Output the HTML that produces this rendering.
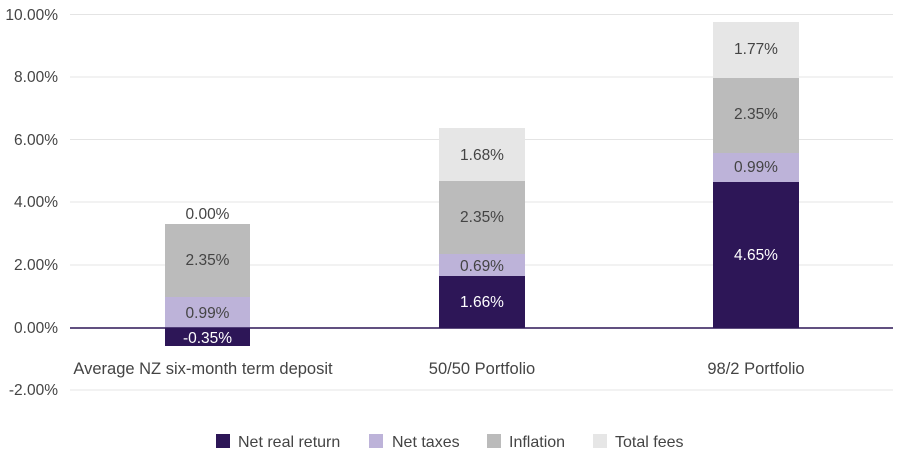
<!DOCTYPE html>
<html><head><meta charset="utf-8"><style>
body{margin:0;background:#fff}
svg text{font-family:"Liberation Sans",Arial,sans-serif;font-size:15.5px;fill:#444}
</style></head><body>
<svg width="900" height="464" viewBox="0 0 900 464" xmlns="http://www.w3.org/2000/svg">
<g stroke="#e4e4e4" stroke-width="1">
<line x1="70" x2="893" y1="14.5" y2="14.5"/>
<line x1="70" x2="893" y1="77" y2="77"/>
<line x1="70" x2="893" y1="139.5" y2="139.5"/>
<line x1="70" x2="893" y1="202" y2="202"/>
<line x1="70" x2="893" y1="265" y2="265"/>
<line x1="70" x2="893" y1="390" y2="390"/>
</g>
<g text-anchor="end">
<text x="58" y="20">10.00%</text>
<text x="58" y="82">8.00%</text>
<text x="58" y="145">6.00%</text>
<text x="58" y="207">4.00%</text>
<text x="58" y="270">2.00%</text>
<text x="58" y="333">0.00%</text>
<text x="58" y="395">-2.00%</text>
</g>
<rect x="165" y="328" width="85" height="18" fill="#2d1657"/>
<rect x="165" y="297" width="85" height="31" fill="#bdb3d9"/>
<rect x="165" y="224" width="85" height="73" fill="#bbbbbb"/>
<rect x="439" y="276" width="86" height="52" fill="#2d1657"/>
<rect x="439" y="254" width="86" height="22" fill="#bdb3d9"/>
<rect x="439" y="181" width="86" height="73" fill="#bbbbbb"/>
<rect x="439" y="128" width="86" height="53" fill="#e6e6e6"/>
<rect x="713" y="182" width="86" height="146" fill="#2d1657"/>
<rect x="713" y="153" width="86" height="29" fill="#bdb3d9"/>
<rect x="713" y="78" width="86" height="75" fill="#bbbbbb"/>
<rect x="713" y="22" width="86" height="56" fill="#e6e6e6"/>
<line x1="70" x2="893" y1="328" y2="328" stroke="#2d1657" stroke-width="1.5"/>
<g text-anchor="middle">
<text x="207.5" y="219">0.00%</text>
<text x="207.5" y="265">2.35%</text>
<text x="207.5" y="318">0.99%</text>
<text x="207.5" y="343" style="fill:#fff">-0.35%</text>
<text x="482" y="160">1.68%</text>
<text x="482" y="222">2.35%</text>
<text x="482" y="271">0.69%</text>
<text x="482" y="307" style="fill:#fff">1.66%</text>
<text x="756" y="54">1.77%</text>
<text x="756" y="119">2.35%</text>
<text x="756" y="172">0.99%</text>
<text x="756" y="260" style="fill:#fff">4.65%</text>
<text x="203" y="374" style="font-size:16.5px">Average NZ six-month term deposit</text>
<text x="482" y="374" style="font-size:16.5px">50/50 Portfolio</text>
<text x="756" y="374" style="font-size:16.5px">98/2 Portfolio</text>
</g>
<g style="font-size:16px">
<rect x="216" y="434" width="14" height="14" fill="#2d1657"/>
<text x="238" y="447" style="font-size:16px">Net real return</text>
<rect x="369" y="434" width="14" height="14" fill="#bdb3d9"/>
<text x="392" y="447" style="font-size:16px">Net taxes</text>
<rect x="487" y="434" width="14" height="14" fill="#bbbbbb"/>
<text x="509" y="447" style="font-size:16px">Inflation</text>
<rect x="593" y="434" width="14" height="14" fill="#e6e6e6"/>
<text x="615" y="447" style="font-size:16px">Total fees</text>
</g>
</svg>
</body></html>
